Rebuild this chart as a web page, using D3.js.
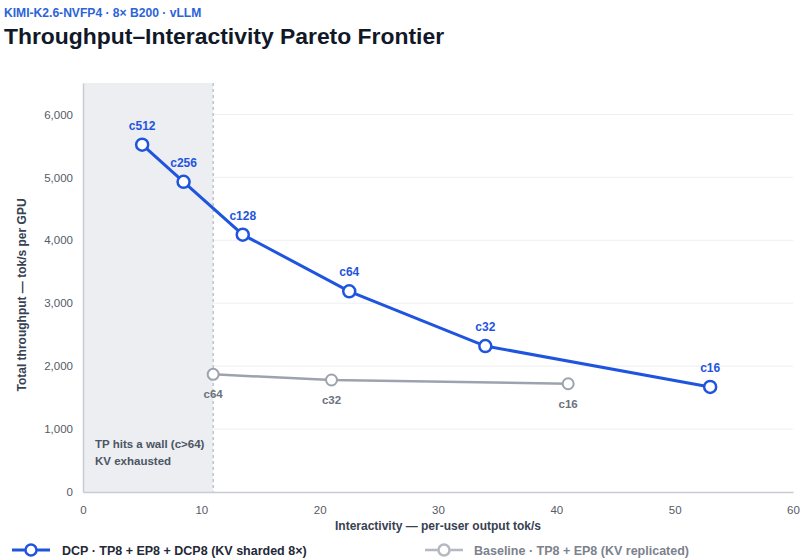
<!DOCTYPE html>
<html>
<head>
<meta charset="utf-8">
<script src="https://cdn.jsdelivr.net/npm/d3@7"></script>
<style>
  body { margin: 0; background: #fff; font-family: "Liberation Sans", Arial, sans-serif; }
  svg text { font-family: "Liberation Sans", Arial, sans-serif; }
</style>
</head>
<body>
<svg id="chart" width="800" height="559"></svg>
<script>
// data
var dcpLabels = ["c512", "c256", "c128", "c64", "c32", "c16"]
var dcpX = [5, 8.5, 13.5, 22.5, 34, 53]
var dcpY = [5520, 4930, 4090, 3190, 2320, 1670]

var baseLabels = ["c64", "c32", "c16"]
var baseX = [11, 21, 41]
var baseY = [1870, 1780, 1720]

var xTicks = [0, 10, 20, 30, 40, 50, 60]
var yTicks = [0, 1000, 2000, 3000, 4000, 5000, 6000]
var wallX = 11

var blue = "#1f55de"
var grey = "#9ca3af"

var main = function()
{
    var svg = d3.select("#chart")
    var m = { left: 83, right: 7, top: 83, bottom: 67 }
    var W = 800, H = 559

    var x = d3.scaleLinear().domain([0, 60]).range([m.left, W - m.right])
    var y = d3.scaleLinear().domain([0, 6500]).range([H - m.bottom, m.top])

    // titles
    svg.append("text").attr("x", 4).attr("y", 17)
        .attr("fill", "#2b63d9").attr("font-size", 12.1).attr("font-weight", 700)
        .text("KIMI-K2.6-NVFP4 · 8× B200 · vLLM")
    svg.append("text").attr("x", 4).attr("y", 44)
        .attr("fill", "#111827").attr("font-size", 22.9).attr("font-weight", 700)
        .text("Throughput–Interactivity Pareto Frontier")

    // shaded "wall" region
    svg.append("rect")
        .attr("x", x(0)).attr("y", y(6500))
        .attr("width", x(wallX) - x(0)).attr("height", y(0) - y(6500))
        .attr("fill", "#eceef2")

    // grid
    svg.append("g").selectAll("line").data(yTicks.filter(function(d){ return d > 0 }))
        .enter().append("line")
        .attr("x1", x(0)).attr("x2", x(60))
        .attr("y1", function(d){ return y(d) }).attr("y2", function(d){ return y(d) })
        .attr("stroke", "#eeeff2").attr("stroke-width", 1)

    svg.append("line")
        .attr("x1", x(wallX)).attr("x2", x(wallX))
        .attr("y1", y(6500)).attr("y2", y(0))
        .attr("stroke", "#a8adb5").attr("stroke-dasharray", "3,3").attr("stroke-width", 1)

    // axes
    var xAxis = svg.append("g").attr("transform", "translate(0," + y(0) + ")")
        .call(d3.axisBottom(x).tickValues(xTicks).tickSize(0).tickPadding(14))
    var yAxis = svg.append("g").attr("transform", "translate(" + x(0) + ",0)")
        .call(d3.axisLeft(y).tickValues(yTicks).tickSize(0).tickPadding(10).tickFormat(d3.format(",")))
    ;[xAxis, yAxis].forEach(function(a){
        a.select(".domain").attr("stroke", "#c9ccd2").attr("stroke-width", 1.5)
        a.selectAll("text").attr("fill", "#555b65").attr("font-size", 11.5)
            .attr("font-family", "'Liberation Sans', Arial, sans-serif")
    })

    svg.append("text").attr("x", (x(0) + x(60)) / 2).attr("y", 530)
        .attr("text-anchor", "middle").attr("fill", "#374151")
        .attr("font-size", 12).attr("font-weight", 700)
        .text("Interactivity — per-user output tok/s")
    svg.append("text")
        .attr("transform", "translate(26,295) rotate(-90)")
        .attr("text-anchor", "middle").attr("fill", "#374151")
        .attr("font-size", 12).attr("font-weight", 700)
        .text("Total throughput — tok/s per GPU")

    // annotation
    svg.append("text").attr("x", 95).attr("y", 448)
        .attr("fill", "#4b5563").attr("font-size", 11.5).attr("font-weight", 700)
        .text("TP hits a wall (c>64)")
    svg.append("text").attr("x", 95).attr("y", 465)
        .attr("fill", "#4b5563").attr("font-size", 11.5).attr("font-weight", 700)
        .text("KV exhausted")

    var line = d3.line().x(function(d){ return x(d.x) }).y(function(d){ return y(d.y) })

    var dcp = dcpX.map(function(v, i){ return { x: v, y: dcpY[i], label: dcpLabels[i] } })
    var base = baseX.map(function(v, i){ return { x: v, y: baseY[i], label: baseLabels[i] } })

    // baseline series
    svg.append("path").datum(base).attr("d", line)
        .attr("fill", "none").attr("stroke", grey).attr("stroke-width", 2.5)
    svg.append("g").selectAll("circle").data(base).enter().append("circle")
        .attr("cx", function(d){ return x(d.x) }).attr("cy", function(d){ return y(d.y) })
        .attr("r", 5.5).attr("fill", "#fff").attr("stroke", grey).attr("stroke-width", 2)
    svg.append("g").selectAll("text").data(base).enter().append("text")
        .attr("x", function(d){ return x(d.x) }).attr("y", function(d){ return y(d.y) + 24 })
        .attr("text-anchor", "middle").attr("fill", "#6b7280")
        .attr("font-size", 11.5).attr("font-weight", 700)
        .text(function(d){ return d.label })

    // DCP series
    svg.append("path").datum(dcp).attr("d", line)
        .attr("fill", "none").attr("stroke", blue).attr("stroke-width", 3)
    svg.append("g").selectAll("circle").data(dcp).enter().append("circle")
        .attr("cx", function(d){ return x(d.x) }).attr("cy", function(d){ return y(d.y) })
        .attr("r", 6).attr("fill", "#fff").attr("stroke", blue).attr("stroke-width", 2.5)
    svg.append("g").selectAll("text").data(dcp).enter().append("text")
        .attr("x", function(d){ return x(d.x) }).attr("y", function(d){ return y(d.y) - 15 })
        .attr("text-anchor", "middle").attr("fill", blue)
        .attr("font-size", 12).attr("font-weight", 700)
        .text(function(d){ return d.label })

    // legend
    var legend = [
        { text: "DCP · TP8 + EP8 + DCP8 (KV sharded 8×)", color: blue, textColor: "#1f2937", at: 12, w: 3 },
        { text: "Baseline · TP8 + EP8 (KV replicated)", color: "#b4b9c1", textColor: "#7c828d", at: 425, w: 2.5 }
    ]
    var lg = svg.append("g").selectAll("g").data(legend).enter().append("g")
        .attr("transform", function(d){ return "translate(" + d.at + ",550)" })
    lg.append("line").attr("x1", 0).attr("x2", 38)
        .attr("stroke", function(d){ return d.color }).attr("stroke-width", function(d){ return d.w })
    lg.append("circle").attr("cx", 19).attr("r", 5.5).attr("fill", "#fff")
        .attr("stroke", function(d){ return d.color }).attr("stroke-width", 2.5)
    lg.append("text").attr("x", function(d, i){ return i ? 49 : 50 }).attr("y", 4.5)
        .attr("fill", function(d){ return d.textColor })
        .attr("font-size", 12.5).attr("font-weight", 700)
        .text(function(d){ return d.text })
}
main()
</script>
</body>
</html>
